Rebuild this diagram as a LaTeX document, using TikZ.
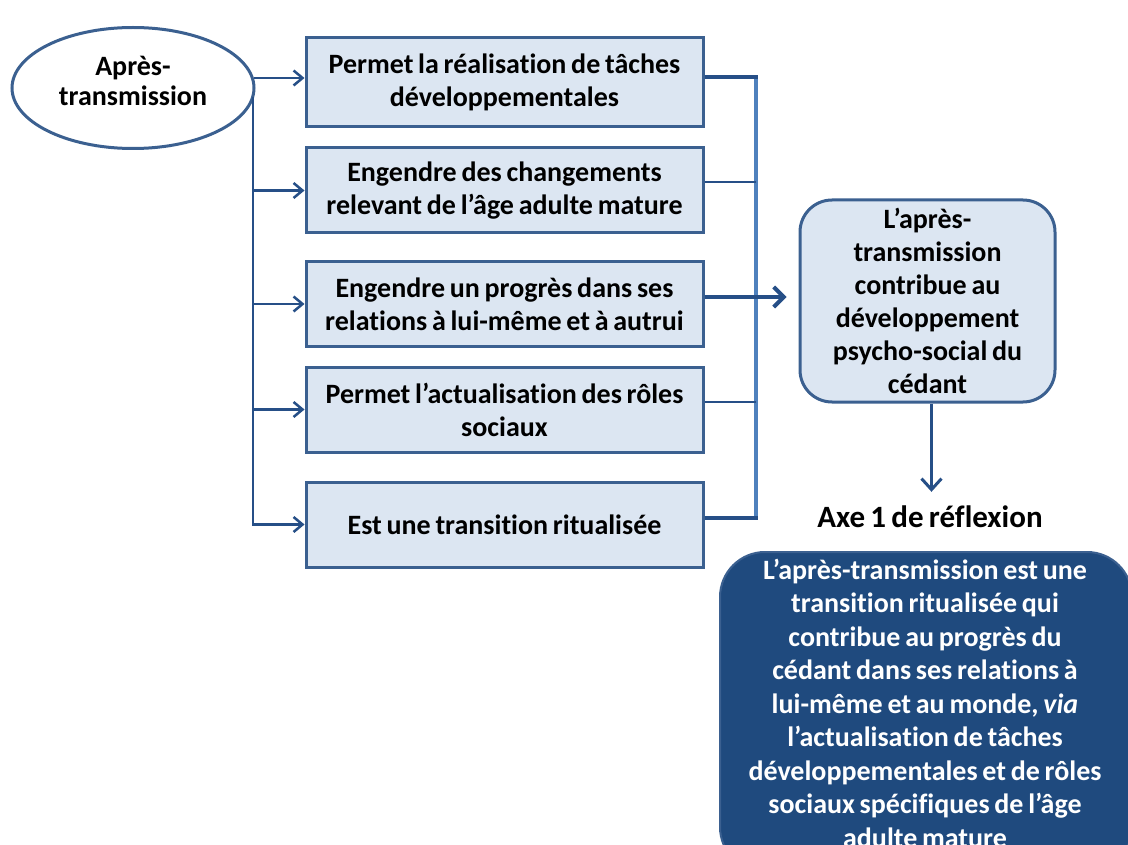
\documentclass[tikz,border=0pt]{standalone}
\usepackage{fontspec}
\setmainfont{Carlito}[WordSpace=0.75,Ligatures=NoCommon]
\usetikzlibrary{arrows.meta,shapes.geometric,calc}
\definecolor{bfill}{HTML}{DCE6F2}
\definecolor{bdraw}{HTML}{3B6090}
\definecolor{conn}{HTML}{264F87}
\definecolor{brk}{HTML}{4F81BD}
\definecolor{darkfill}{HTML}{1F4A7E}
\begin{document}
\begin{tikzpicture}[x=1pt,y=-1pt,
  every node/.style={font=\bfseries\fontsize{28}{33}\selectfont, align=center, inner sep=0pt},
  stepbox/.style={draw=bdraw, fill=bfill, line width=3pt, minimum width=397pt, minimum height=85pt},
  tipv/.style={-{Straight Barb[length=9pt,width=15pt,line width=2.5pt]}},
  feed/.style={draw=conn, line width=2.5pt, tipv},
  thinjoin/.style={draw=conn, line width=2.5pt},
  thickjoin/.style={draw=conn, line width=4pt},
]
\useasboundingbox (0,0) rectangle (1128,845);
\clip (0,0) rectangle (1128,845);

% left ellipse
\node[ellipse, draw=bdraw, fill=white, line width=3pt, minimum width=242pt, minimum height=121pt] (ell) at (133,88) {};
\node[font=\bfseries\fontsize{28}{30}\selectfont] (elltext) at (133,81) {Après-\\transmission};

% boxes
\node[stepbox, minimum height=89pt] (b1) at (504.5,82.5) {Permet la réalisation de tâches\\développementales};
\node[stepbox] (b2) at (504.5,190.5) {Engendre des changements\\relevant de l’âge adulte mature};
\node[stepbox] (b3) at (504.5,304) {Engendre un progrès dans ses\\relations à lui-même et à autrui};
\node[stepbox] (b4) at (504.5,409.5) {Permet l’actualisation des rôles\\sociaux};
\node[stepbox] (b5) at (504.5,524.5) {Est une transition ritualisée};

% right rounded box
\node[draw=bdraw, fill=bfill, line width=3pt, rounded corners=32pt, minimum width=255pt, minimum height=202pt] (rbox) at (927.5,301)
  {L’après-\\transmission\\contribue au\\développement\\psycho-social du\\cédant};

% axe title
\node[font=\bfseries\fontsize{31}{33}\selectfont] (axe) at (930,517) {Axe 1 de réflexion};

% dark box
\node[draw=bdraw, fill=darkfill, line width=2pt, rounded corners=45pt, minimum width=412pt, minimum height=320pt] (dbox) at (926,712) {};
\node[text=white, font=\bfseries\fontsize{28}{33.5}\selectfont] (dtext) at (925,703)
  {L’après-transmission est une\\transition ritualisée qui\\contribue au progrès du\\cédant dans ses relations à\\lui-même et au monde, \textit{via}\\l’actualisation de tâches\\développementales et de rôles\\sociaux spécifiques de l’âge\\adulte mature};

% left connectors
\coordinate (tk) at (253,97);
\draw[feed] ($(b1.west -| ell.east)+(-2,-4.5)$) -- ($(b1.west)+(0,-4.5)$);
\draw[feed] (tk) |- (b5.west);
\foreach \b in {b2,b3,b4} \draw[feed] (tk |- \b.west) -- (\b.west);

% right bracket
\coordinate (bx) at (756,0);
\coordinate (r1) at ($(b1.east)+(0,-5.5)$);
\coordinate (r2) at ($(b2.east)+(0,-8.5)$);
\coordinate (r3) at ($(b3.east)+(0,-7)$);
\coordinate (r4) at ($(b4.east)+(0,-7.5)$);
\coordinate (r5) at ($(b5.east)+(0,-6.5)$);
\draw[draw=brk, line width=4pt] (r1 -| bx) -- (r5 -| bx);
\draw[thickjoin] (r1) -- ($(r1 -| bx)+(2,0)$);
\draw[thinjoin] (r2) -- (r2 -| bx);
\draw[thinjoin] (r4) -- (r4 -| bx);
\draw[thickjoin] (r5) -- ($(r5 -| bx)+(2,0)$);
\draw[draw=conn, line width=4pt, -{Straight Barb[length=10pt,width=20pt,line width=4pt]}, shorten >=12pt] (r3) -- (r3 -| rbox.west);

% down arrow
\draw[draw=conn, line width=3pt, -{Straight Barb[length=11pt,width=20pt,line width=3pt]}, shorten >=14pt] ($(rbox.south)+(4,0)$) -- ($(rbox.south |- axe.north)+(4,0)$);
\end{tikzpicture}
\end{document}
